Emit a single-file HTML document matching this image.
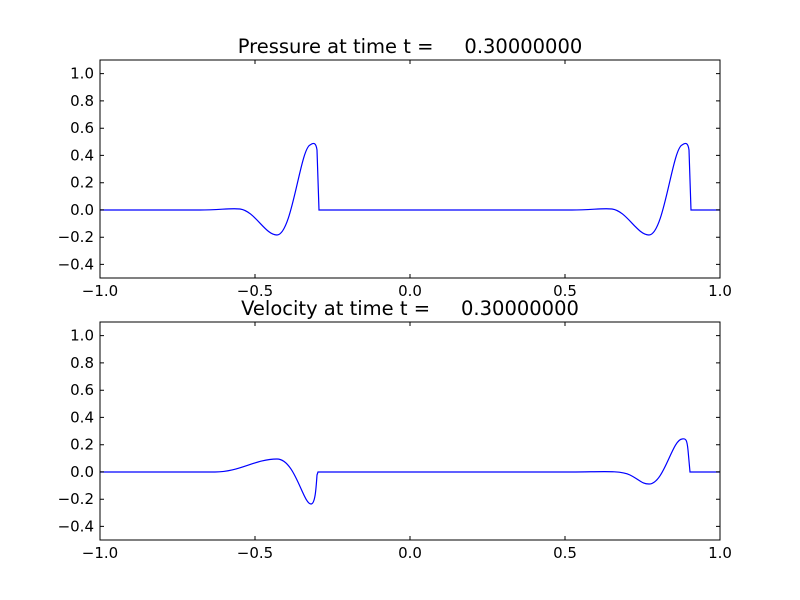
<!DOCTYPE html><html><head><meta charset="utf-8"><style>body{margin:0;background:#fff}svg{display:block}text{font-family:"DejaVu Sans","Liberation Sans",sans-serif}</style></head><body>
<svg width="800" height="600" xmlns="http://www.w3.org/2000/svg">
<rect width="800" height="600" fill="#fff"/>
<path d="M100,210 L200,210 C220,210 230,208 240,209 C255,211 265,235 277,235 C292,235 300,150 310,145 C314,142 316,143 317,150 L319,210 L572,210 C592,210 602,208 612,209 C627,211 637,235 649,235 C664,235 672,150 682,145 C686,142 688,143 689,150 L691,210 L720,210" fill="none" stroke="#0000ff" stroke-width="1.2"/>
<rect x="100" y="60" width="620" height="218" fill="none" stroke="#000"/>
<path d="M100,472 L215,472 C240,472 255,459 277,459 C295,459 303,504 311,504 C315,504 316,490 317,475 L318,472 L572,472 C600,472 620,470 630,475 C640,480 642,484 649,484 C664,484 672,440 682,439 C686,438 687,440 688,450 L690,472 L720,472" fill="none" stroke="#0000ff" stroke-width="1.2"/>
<rect x="100" y="322" width="620" height="218" fill="none" stroke="#000"/>
<g stroke="#000" stroke-width="1">
<path d="M255,278v-4M410,278v-4M565,278v-4M255,60v4M410,60v4M565,60v4
M100,264.4h4M100,237.2h4M100,209.9h4M100,182.7h4M100,155.4h4M100,128.2h4M100,100.9h4M100,73.6h4
M720,264.4h-4M720,237.2h-4M720,209.9h-4M720,182.7h-4M720,155.4h-4M720,128.2h-4M720,100.9h-4M720,73.6h-4
M255,540v-4M410,540v-4M565,540v-4M255,322v4M410,322v4M565,322v4
M100,526.4h4M100,499.2h4M100,471.9h4M100,444.7h4M100,417.4h4M100,390.2h4M100,362.9h4M100,335.6h4
M720,526.4h-4M720,499.2h-4M720,471.9h-4M720,444.7h-4M720,417.4h-4M720,390.2h-4M720,362.9h-4M720,335.6h-4"/>
</g>
<g font-size="15" text-anchor="middle" fill="#000">
<text x="100" y="296">−1.0</text><text x="255" y="296">−0.5</text><text x="410" y="296">0.0</text><text x="565" y="296">0.5</text><text x="720" y="296">1.0</text>
<text x="100" y="558">−1.0</text><text x="255" y="558">−0.5</text><text x="410" y="558">0.0</text><text x="565" y="558">0.5</text><text x="720" y="558">1.0</text>
</g>
<g font-size="15" text-anchor="end" fill="#000">
<text x="94" y="269.4">−0.4</text><text x="94" y="242.2">−0.2</text><text x="94" y="214.9">0.0</text><text x="94" y="187.7">0.2</text><text x="94" y="160.4">0.4</text><text x="94" y="133.2">0.6</text><text x="94" y="105.9">0.8</text><text x="94" y="78.6">1.0</text>
<text x="94" y="531.4">−0.4</text><text x="94" y="504.2">−0.2</text><text x="94" y="476.9">0.0</text><text x="94" y="449.7">0.2</text><text x="94" y="422.4">0.4</text><text x="94" y="395.2">0.6</text><text x="94" y="367.9">0.8</text><text x="94" y="340.6">1.0</text>
</g>
<g font-size="19.5" text-anchor="middle" fill="#000">
<text x="410" y="53" xml:space="preserve">Pressure at time t =     0.30000000</text>
<text x="410" y="315" xml:space="preserve">Velocity at time t =     0.30000000</text>
</g>
</svg></body></html>
